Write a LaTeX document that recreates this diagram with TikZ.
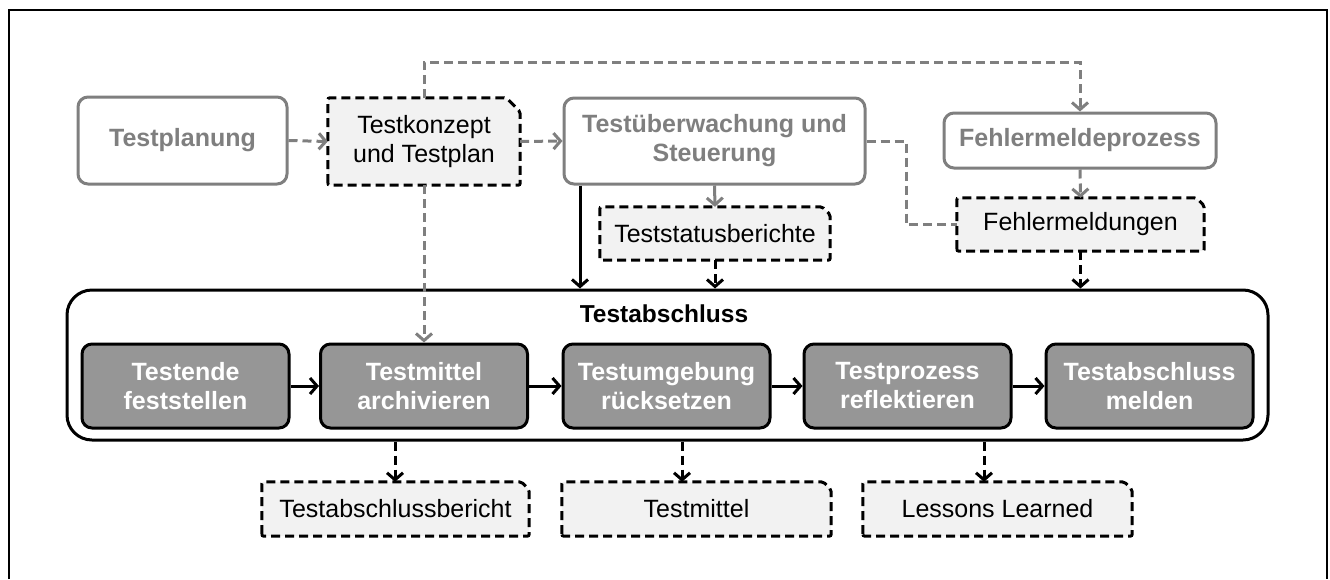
\documentclass[tikz,border=0pt]{standalone}
\usepackage{fontspec}
\setmainfont{Liberation Sans}
\usetikzlibrary{arrows.meta,backgrounds}

\definecolor{procgray}{RGB}{127,127,127}
\definecolor{stepfill}{RGB}{150,150,150}
\definecolor{docfill}{RGB}{242,242,242}

\tikzset{
  every node/.style={align=center, inner sep=0pt, font=\fontsize{25}{29}\selectfont},
  tipshape/.style={-{Straight Barb[length=7pt,width=16pt]}},
  dashpat/.style={dash pattern=on 9pt off 5pt},
  outerproc/.style={draw=procgray, line width=3pt, rounded corners=10pt, fill=white,
    text=procgray, font=\fontsize{25}{29}\selectfont\bfseries},
  stepbox/.style={draw=black, line width=3pt, rounded corners=10pt, fill=stepfill,
    text=white, font=\fontsize{25}{29}\selectfont\bfseries,
    minimum width=207pt, minimum height=84pt},
  docnode/.style={text=black},
  docline/.style={draw=black, fill=docfill, line width=3pt, dashpat, rounded corners=2pt},
  gdash/.style={draw=procgray, line width=3pt, dashpat},
  garrow/.style={gdash, tipshape},
  gsolid/.style={draw=procgray, line width=3pt, tipshape},
  bdash/.style={draw=black, line width=3pt, dashpat, tipshape},
  bsolid/.style={draw=black, line width=3pt, tipshape},
}

% outline of a document box: rectangle with a cut top-right corner
\newcommand\docoutline[2]{%
  \path[docline] (#1.south west) -- (#1.north west) -- ([xshift=-#2pt]#1.north east)
    -- ([yshift=-#2pt]#1.north east) -- (#1.south east) -- cycle;}

\begin{document}
\begin{tikzpicture}[x=1pt, y=-1pt]
\useasboundingbox (0,0) rectangle (1330,579);

% frame
\draw[line width=2.5pt] (9,579) -- (9,10) -- (1327,10) -- (1327,579);

% upper process boxes
\node[outerproc, minimum width=209pt, minimum height=87pt] (tp) at (182.5,140.5) {Testplanung};
\node[outerproc, minimum width=301pt, minimum height=86pt] (tu) at (714.5,141) {Testüberwachung und\\Steuerung};
\node[outerproc, minimum width=272pt, minimum height=55pt] (fp) at (1080,140.5) {Fehlermeldeprozess};

% documents
\node[docnode, minimum width=192pt, minimum height=87pt] (tk) at (424,141.5) {Testkonzept\\und Testplan};
\node[docnode, minimum width=230pt, minimum height=53pt] (ts) at (715,233.5) {Teststatusberichte};
\node[docnode, minimum width=247pt, minimum height=53pt] (fm) at (1080.5,224.5) {Fehlermeldungen};
\node[docnode, minimum width=267pt, minimum height=54pt] (db) at (395.5,509) {Testabschlussbericht};
\node[docnode, minimum width=269pt, minimum height=54pt] (dm) at (696.5,509) {Testmittel};
\node[docnode, minimum width=269pt, minimum height=54pt] (dl) at (997.5,509) {Lessons Learned};

% closing phase container
\node[draw=black, line width=3pt, rounded corners=25pt, minimum width=1201pt, minimum height=150pt] (ta) at (667.5,365) {};
\node[font=\fontsize{24.5}{29}\selectfont\bfseries] (tat) at (664,314) {Testabschluss};

% activities
\node[stepbox] (s1) at (185.5,386) {Testende\\feststellen};
\node[stepbox] (s2) at (424,386) {Testmittel\\archivieren};
\node[stepbox] (s3) at (666.5,386) {Testumgebung\\rücksetzen};
\node[stepbox] (s4) at (907.5,386) {Testprozess\\reflektieren};
\node[stepbox] (s5) at (1149.5,386) {Testabschluss\\melden};

\begin{scope}[on background layer]
  \docoutline{tk}{14}
  \docoutline{ts}{8}
  \docoutline{fm}{8}
  \docoutline{db}{8}
  \docoutline{dm}{8}
  \docoutline{dl}{8}
\end{scope}

% helper coordinates
\coordinate (loopy) at (0,62);
\coordinate (bendx) at (906,0);
\coordinate (ctrlx) at (580,0);
\coordinate (outa) at (395,0);
\coordinate (outb) at (682,0);
\coordinate (outc) at (984,0);

% gray connectors
\draw[garrow] (tp.east) -- (tk.west);
\draw[garrow] (tk.east) -- (tu.west);
\draw[garrow] (tk.north) -- (tk.north |- loopy) -| (fp.north);
\draw[gsolid] (tu.south) -- (ts.north);
\draw[garrow] (fp.south) -- (fm.north);
\draw[gdash] (tu.east) -| (bendx |- fm.west) -- (fm.west);
\draw[garrow] (tk.south) -- (s2.north);

% black connectors into the container
\draw[bsolid] (tu.south -| ctrlx) -- (ta.north -| ctrlx);
\draw[bdash] (ts.south) -- (ta.north -| ts.south);
\draw[bdash] (fm.south) -- (ta.north -| fm.south);

% activity sequence
\draw[bsolid] (s1.east) -- (s2.west);
\draw[bsolid] (s2.east) -- (s3.west);
\draw[bsolid] (s3.east) -- (s4.west);
\draw[bsolid] (s4.east) -- (s5.west);

% outputs
\draw[bdash] (ta.south -| outa) -- (db.north -| outa);
\draw[bdash] (ta.south -| outb) -- (dm.north -| outb);
\draw[bdash] (ta.south -| outc) -- (dl.north -| outc);
\end{tikzpicture}
\end{document}
